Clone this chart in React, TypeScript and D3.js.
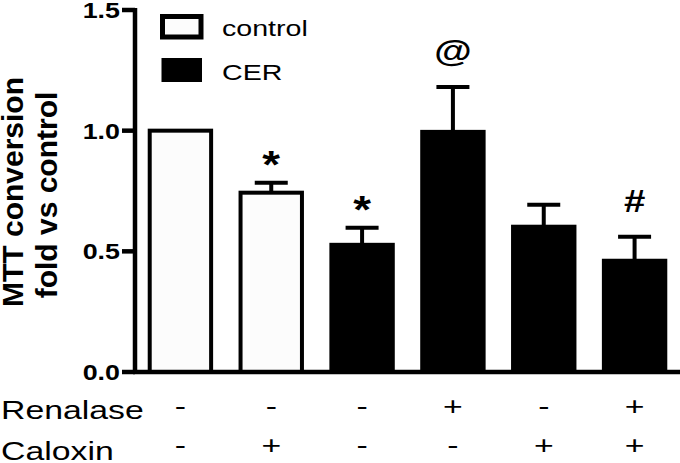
import * as d3 from "d3";

// groups (left to right)
const cellType = ["control", "control", "CER", "CER", "CER", "CER"];
const renalase = ["-", "-", "-", "+", "-", "+"];
const caloxin = ["-", "+", "-", "-", "+", "+"];
const means = [1.0, 0.743, 0.527, 0.995, 0.602, 0.461];
const sems = [0, 0.041, 0.071, 0.186, 0.091, 0.099];
const marks = ["", "*", "*", "@", "", "#"];
const yTicks = [0, 0.5, 1.0, 1.5];
const legendLabels = ["control", "CER"];
const rowLabels = ["Renalase", "Caloxin"];

const W = 680;
const H = 463;
const FONT = "'Liberation Sans', Arial, Helvetica, sans-serif";

export default function App() {
  const ids = means.map((_, i) => String(i));
  const x = d3.scaleBand().domain(ids).range([135, 680]).paddingInner(0.28).paddingOuter(0.14);
  const y = d3.scaleLinear().domain([0, 1.5]).range([372, 10]);
  const fmt = d3.format(".1f");
  const bw = x.bandwidth();
  const fillOf = (c: string) => (c === "control" ? "#fcfcfc" : "#000");

  return (
    <svg width={W} height={H} style={{ position: "absolute", left: 0, top: 0, background: "#fff" }}>
      {/* y title */}
      <g fontFamily={FONT} fontWeight="bold" fontSize={30} fill="#000" textAnchor="middle">
        <text transform={`translate(23,192) rotate(-90)`}>MTT conversion</text>
        <text transform={`translate(57,195) rotate(-90)`}>fold vs control</text>
      </g>

      {/* bars */}
      {means.map((m, i) => (
        <rect
          key={"b" + i}
          x={(x(ids[i]) as number) + 2}
          y={y(m)}
          width={bw - 4}
          height={y(0) - y(m)}
          fill={fillOf(cellType[i])}
          stroke="#000"
          strokeWidth={4}
        />
      ))}

      {/* error bars */}
      {means.map((m, i) => {
        if (!sems[i]) return null;
        const cx = (x(ids[i]) as number) + bw / 2;
        return (
          <g key={"e" + i} stroke="#000" strokeWidth={4}>
            <line x1={cx} x2={cx} y1={y(m)} y2={y(m + sems[i])} />
            <line x1={cx - 16.5} x2={cx + 16.5} y1={y(m + sems[i])} y2={y(m + sems[i])} />
          </g>
        );
      })}

      {/* significance marks */}
      {marks.map((s, i) => {
        if (!s) return null;
        const cx = (x(ids[i]) as number) + bw / 2;
        const top = y(means[i] + sems[i]);
        const isStar = s === "*";
        return (
          <text
            key={"m" + i}
            transform={`translate(${cx},${top - (isStar ? 5 : 25)}) scale(1.2,1)`}
            textAnchor="middle"
            fontFamily={FONT}
            fontWeight="bold"
            fontSize={isStar ? 38 : 32}
          >
            {s}
          </text>
        );
      })}

      {/* axes */}
      <g stroke="#000" strokeWidth={4.5}>
        <line x1={135} x2={135} y1={y(1.5) - 2} y2={y(0) + 2} />
        <line x1={133} x2={680} y1={y(0)} y2={y(0)} />
        {yTicks.map((t) => (
          <line key={"t" + t} x1={122} x2={135} y1={y(t)} y2={y(t)} />
        ))}
      </g>
      {yTicks.map((t) => (
        <text
          key={"tl" + t}
          transform={`translate(120,${y(t) + 8}) scale(1.22,1)`}
          textAnchor="end"
          fontFamily={FONT}
          fontWeight="bold"
          fontSize={22}
        >
          {fmt(t)}
        </text>
      ))}

      {/* legend */}
      {legendLabels.map((l, i) => (
        <g key={"l" + i}>
          <rect
            x={162.5}
            y={16.5 + i * 42.5}
            width={38.5}
            height={i === 0 ? 20.5 : 22}
            fill={fillOf(l)}
            stroke="#000"
            strokeWidth={i === 0 ? 5 : 2}
          />
          <text
            transform={`translate(222,${36 + i * 44}) scale(1.3,1)`}
            fontFamily={FONT}
            fontSize={22}
          >
            {l}
          </text>
        </g>
      ))}

      {/* treatment rows */}
      {rowLabels.map((r, k) => (
        <text
          key={"r" + k}
          transform={`translate(1,${419 + k * 41}) scale(1.3,1)`}
          fontFamily={FONT}
          fontSize={26}
        >
          {r}
        </text>
      ))}
      {[renalase, caloxin].map((row, k) =>
        row.map((s, i) => (
          <text
            key={"s" + k + i}
            transform={`translate(${(x(ids[i]) as number) + bw / 2},${415 + k * 39}) scale(1.3,1)`}
            textAnchor="middle"
            fontFamily={FONT}
            fontSize={26}
          >
            {s}
          </text>
        ))
      )}
    </svg>
  );
}
